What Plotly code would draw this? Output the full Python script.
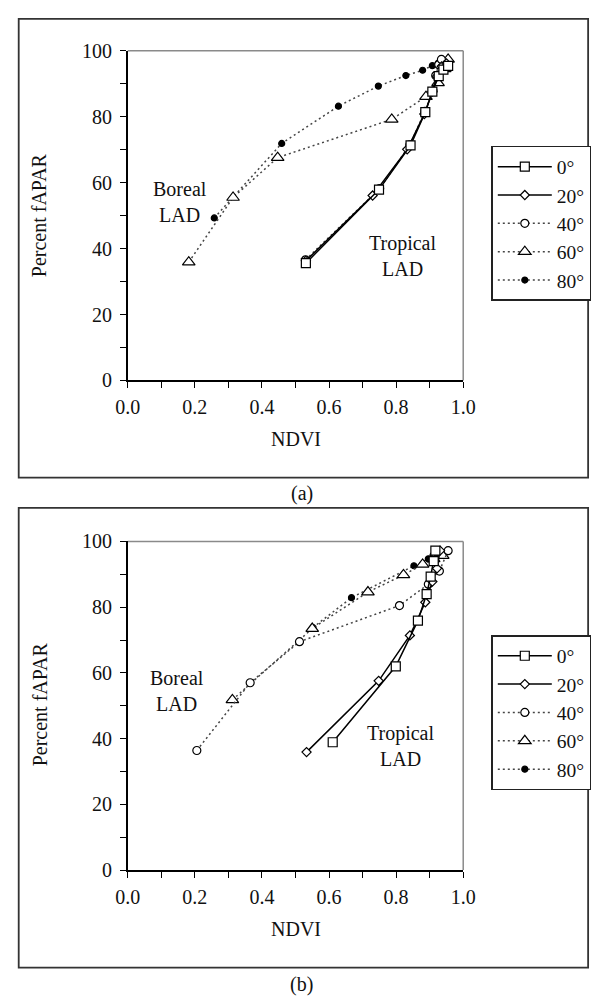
import plotly.graph_objects as go

# ---------------- data ----------------
angles = ["0°", "20°", "40°", "60°", "80°"]

# panel (a)
a0_x = [0.531, 0.749, 0.843, 0.887, 0.908, 0.927, 0.941, 0.955]
a0_y = [35.6, 57.9, 71.3, 81.4, 87.6, 92.3, 94.3, 95.4]
a20_x = [0.531, 0.730, 0.833, 0.884, 0.908, 0.922, 0.936, 0.950]
a20_y = [36.3, 56.1, 70.1, 80.8, 87.6, 92.3, 95.3, 96.2]
a40_x = [0.530, 0.751, 0.841, 0.886, 0.910, 0.918, 0.927, 0.935]
a40_y = [36.6, 58.2, 71.5, 81.6, 87.8, 92.5, 95.8, 97.4]
a60_x = [0.182, 0.314, 0.447, 0.787, 0.889, 0.925, 0.945, 0.955]
a60_y = [35.9, 55.5, 67.6, 79.2, 86.1, 90.3, 94.5, 97.4]
a80_x = [0.258, 0.459, 0.628, 0.747, 0.829, 0.879, 0.908, 0.925, 0.940]
a80_y = [49.3, 71.9, 83.2, 89.3, 92.5, 94.1, 95.5, 96.2, 96.6]

# panel (b)
b0_x = [0.611, 0.799, 0.865, 0.891, 0.903, 0.912, 0.917]
b0_y = [38.9, 62.0, 75.9, 84.0, 89.3, 94.0, 97.2]
b20_x = [0.533, 0.748, 0.841, 0.887, 0.908, 0.922, 0.931]
b20_y = [35.9, 57.6, 71.4, 81.5, 87.8, 91.8, 97.2]
b40_x = [0.206, 0.365, 0.512, 0.810, 0.896, 0.929, 0.955]
b40_y = [36.4, 57.0, 69.5, 80.5, 87.0, 91.0, 97.2]
b60_x = [0.312, 0.550, 0.716, 0.822, 0.879, 0.912, 0.939]
b60_y = [51.8, 73.5, 84.6, 89.8, 93.0, 94.7, 95.7]
b80_x = [0.552, 0.667, 0.853, 0.896, 0.910, 0.925]
b80_y = [73.8, 82.9, 92.6, 94.7, 95.8, 96.6]

x_ticks = [0.0, 0.2, 0.4, 0.6, 0.8, 1.0]
y_ticks = [0, 20, 40, 60, 80, 100]

# ---------------- layout helpers ----------------
W, H = 604, 1007
FONT = "Times New Roman, Liberation Serif, DejaVu Serif, serif"
def px(x):
    return x / W
def py(y):
    return 1 - y / H

styles = [
    dict(symbol="square", size=9, line="solid", mfill="white"),
    dict(symbol="diamond", size=7, line="solid", mfill="white"),
    dict(symbol="circle", size=8, line="dot", mfill="white"),
    dict(symbol="triangle-up", size=11, line="dot", mfill="white"),
    dict(symbol="circle", size=6, line="dot", mfill="black"),
]

fig = go.Figure()

panels = [
    ("x", "y", "legend", [(a0_x, a0_y), (a20_x, a20_y), (a40_x, a40_y), (a60_x, a60_y), (a80_x, a80_y)]),
    ("x2", "y2", "legend2", [(b0_x, b0_y), (b20_x, b20_y), (b40_x, b40_y), (b60_x, b60_y), (b80_x, b80_y)]),
]

for xa, ya, leg, series in panels:
    for i in [4, 3, 2, 1, 0]:
        sx, sy = series[i]
        st = styles[i]
        solid = st["line"] == "solid"
        fig.add_trace(go.Scatter(
            x=sx, y=sy, xaxis=xa, yaxis=ya, name=angles[i], legend=leg,
            legendrank=i + 1,
            mode="lines+markers", cliponaxis=False,
            line=dict(color="black" if solid else "#444", width=1.5,
                      dash="solid" if solid else "2px,3px"),
            marker=dict(symbol=st["symbol"], size=st["size"],
                        color=st["mfill"], line=dict(color="black", width=1.2)),
        ))

axis_common = dict(showgrid=False, zeroline=False, showline=True, linecolor="black",
                   linewidth=1.5, ticks="outside", ticklen=6, tickwidth=1, tickcolor="black",
                   tickfont=dict(family=FONT, size=20, color="#111"), mirror=False)

x_dom = [px(120.7), px(470.7)]
a_dom = [py(377.7), py(40.7)]
b_dom = [py(878.3), py(542.3)]

legend_common = dict(xanchor="left", yanchor="top", bordercolor="#222", borderwidth=1.5,
                     bgcolor="white", font=dict(family=FONT, size=19.5, color="#111"),
                     traceorder="normal", itemwidth=54)

fig.update_layout(
    width=W, height=H, autosize=False,
    margin=dict(l=0, r=0, t=0, b=0),
    paper_bgcolor="white", plot_bgcolor="white",
    font=dict(family=FONT, size=20, color="#111"),
    xaxis=dict(domain=x_dom, anchor="y", range=[0, 1], tickvals=x_ticks, tickformat=".1f",
               minor=dict(dtick=0.1, ticks="outside", ticklen=6, tickcolor="black"),
               ticklabelstandoff=2, **axis_common),
    yaxis=dict(domain=a_dom, anchor="x", range=[0, 100], tickvals=y_ticks,
               minor=dict(dtick=10, ticks="outside", ticklen=6, tickcolor="black"),
               ticklabelstandoff=4, **axis_common),
    xaxis2=dict(domain=x_dom, anchor="y2", range=[0, 1], tickvals=x_ticks, tickformat=".1f",
                minor=dict(dtick=0.1, ticks="outside", ticklen=6, tickcolor="black"),
                ticklabelstandoff=2, **axis_common),
    yaxis2=dict(domain=b_dom, anchor="x2", range=[0, 100], tickvals=y_ticks,
                minor=dict(dtick=10, ticks="outside", ticklen=6, tickcolor="black"),
                ticklabelstandoff=4, **axis_common),
    legend=dict(x=px(500), y=py(138), **legend_common),
    legend2=dict(x=px(500), y=py(638), **legend_common),
)

shapes = []
for top, bot in [(8, 477), (508, 978)]:
    shapes.append(dict(type="rect", xref="paper", yref="paper", x0=px(7), x1=px(601),
                       y0=py(bot), y1=py(top), line=dict(color="#333", width=1.8), layer="below"))
for dom in [a_dom, b_dom]:
    shapes.append(dict(type="line", xref="paper", yref="paper", x0=x_dom[0], x1=x_dom[1],
                       y0=dom[1], y1=dom[1], line=dict(color="#8a8a8a", width=1.5), layer="below"))
    shapes.append(dict(type="line", xref="paper", yref="paper", x0=x_dom[1], x1=x_dom[1],
                       y0=dom[0], y1=dom[1], line=dict(color="#8a8a8a", width=1.5), layer="below"))
fig.update_layout(shapes=shapes)

ann = []
txt = dict(family=FONT, size=20, color="#111")
C = dict(showarrow=False, font=txt, xanchor="center", yanchor="middle")
for xr, yr, off in [("x", "y", 0), ("x2", "y2", 500)]:
    bx, by, tx, ty = (0.155, 54.2, 0.82, 37.8) if off == 0 else (0.148, 54.6, 0.812, 37.7)
    ann.append(dict(x=bx, y=by, xref=xr, yref=yr, text="Boreal<br>LAD", **C))
    ann.append(dict(x=tx, y=ty, xref=xr, yref=yr, text="Tropical<br>LAD", **C))
    ann.append(dict(x=px(296), y=py(438 + off), xref="paper", yref="paper", text="NDVI", **C))
    ann.append(dict(x=px(29), y=py(209 + off), xref="paper", yref="paper", text="Percent fAPAR",
                    textangle=-90, **C))
ann.append(dict(x=px(302), y=py(493), xref="paper", yref="paper", text="(a)", **C))
ann.append(dict(x=px(302), y=py(995), xref="paper", yref="paper", text="(b)", **C))
fig.update_layout(annotations=ann)

fig.write_html("out.html", config={"displayModeBar": False},
               post_script="document.body.style.margin='0';document.body.style.overflow='hidden';")
